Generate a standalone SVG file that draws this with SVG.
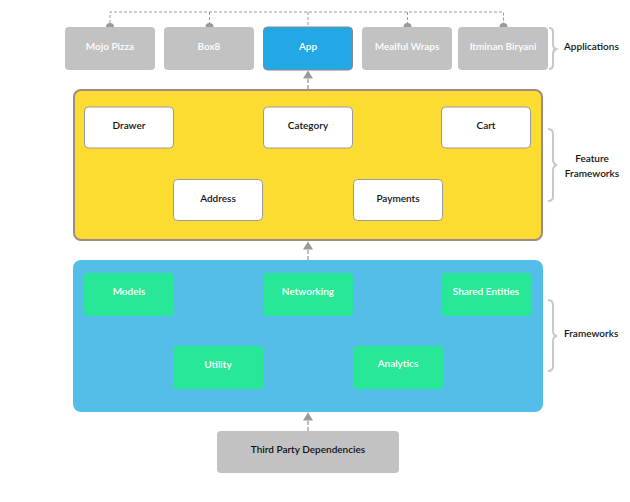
<svg xmlns="http://www.w3.org/2000/svg" width="630" height="502" viewBox="0 0 630 502">
<defs>
<style>
text{font-family:Lato,"Open Sans","Liberation Sans",sans-serif;font-size:10px;text-anchor:middle;font-weight:600}
.app{fill:#c2c2c2}
.appt{fill:#ffffff}
.white{fill:#ffffff;stroke:#9a9a9a;stroke-width:1}
.green{fill:#28e897}
.dash{fill:none;stroke:#9a9a9a;stroke-width:1;stroke-dasharray:3,2}
.vdash{fill:none;stroke:#bdbdbd;stroke-width:2;stroke-dasharray:4,2}
.brace{fill:none;stroke:#c8c8c8;stroke-width:2}
.lbl{fill:#111;text-anchor:start}
.dk{fill:#111}
</style>
<marker id="arr" viewBox="0 0 8 10" refX="8" refY="5" markerWidth="8" markerHeight="10" markerUnits="userSpaceOnUse" orient="auto">
<path d="M0,0 L8,5 L0,10 Z" fill="#9a9a9a"/>
</marker>
</defs>

<g id="connectors">
<path class="dash" d="M110,23 V12 H503.5 V23 M209.5,12 V23 M407.5,12 V23 M308,12 V27"/>
<circle cx="110" cy="27" r="4" fill="#9a9a9a"/>
<circle cx="209.5" cy="27" r="4" fill="#9a9a9a"/>
<circle cx="407.5" cy="27" r="4" fill="#9a9a9a"/>
<circle cx="503.5" cy="27" r="4" fill="#9a9a9a"/>
<path class="vdash" d="M308,89 V70.5" marker-end="url(#arr)"/>
<path class="vdash" d="M308,260 V241.5" marker-end="url(#arr)"/>
<path class="vdash" d="M308,431 V412.5" marker-end="url(#arr)"/>
</g>

<g id="mojo"><rect class="app" x="65" y="27" width="90" height="43" rx="4"/><text class="appt" x="110" y="50">Mojo Pizza</text></g>
<g id="box8"><rect class="app" x="164" y="27" width="90" height="43" rx="4"/><text class="appt" x="209" y="50">Box8</text></g>
<g id="app"><rect x="263.5" y="27" width="89" height="43" rx="4" fill="#22a8e4" stroke="#8a8a8a" stroke-width="1"/><text class="appt" x="308" y="50">App</text></g>
<g id="mealful"><rect class="app" x="362" y="27" width="90" height="43" rx="4"/><text class="appt" x="407" y="50">Mealful Wraps</text></g>
<g id="itminan"><rect class="app" x="458" y="27" width="90" height="43" rx="4"/><text class="appt" x="503" y="50">Itminan Biryani</text></g>

<g id="applications">
<path class="brace" d="M549,28 Q553,28 553,32 V44 Q553,48 556,49 Q553,50 553,54 V65 Q553,69 549,69"/>
<text class="lbl" x="564" y="50">Applications</text>
</g>

<g id="feature-frameworks">
<rect x="74" y="90" width="468" height="150" rx="7" fill="#fddc32" stroke="#a08a86" stroke-width="2"/>
<path class="brace" d="M548,129 Q553,129 553,134 V160 Q553,164 557,165 Q553,166 553,170 V196 Q553,201 548,201"/>
<text class="dk" x="592" y="162">Feature</text>
<text class="dk" x="592" y="177">Frameworks</text>
</g>
<g id="drawer"><rect class="white" x="84.5" y="107" width="89" height="41" rx="4"/><text class="dk" x="129" y="129">Drawer</text></g>
<g id="category"><rect class="white" x="263.5" y="107" width="89" height="41" rx="4"/><text class="dk" x="308" y="129">Category</text></g>
<g id="cart"><rect class="white" x="441.5" y="107" width="89" height="41" rx="4"/><text class="dk" x="486" y="129">Cart</text></g>
<g id="address"><rect class="white" x="173.5" y="179.5" width="89" height="41" rx="4"/><text class="dk" x="218" y="202">Address</text></g>
<g id="payments"><rect class="white" x="353.5" y="179.5" width="89" height="41" rx="4"/><text class="dk" x="398" y="202">Payments</text></g>

<g id="frameworks">
<rect x="73" y="260" width="470" height="152" rx="8" fill="#53bfe8"/>
<path class="brace" d="M548,300 Q553,300 553,305 V331 Q553,335 557,336 Q553,337 553,341 V366 Q553,371 548,371"/>
<text class="lbl" x="564" y="337">Frameworks</text>
</g>
<g id="models"><rect class="green" x="84" y="273" width="90" height="43" rx="4"/><text class="appt" x="129" y="295">Models</text></g>
<g id="networking"><rect class="green" x="263" y="273" width="90" height="43" rx="4"/><text class="appt" x="308" y="295">Networking</text></g>
<g id="shared"><rect class="green" x="441" y="273" width="90" height="43" rx="4"/><text class="appt" x="486" y="295">Shared Entities</text></g>
<g id="utility"><rect class="green" x="173" y="346" width="90" height="43" rx="4"/><text class="appt" x="218" y="368">Utility</text></g>
<g id="analytics"><rect class="green" x="353" y="346" width="90" height="43" rx="4"/><text class="appt" x="398" y="367">Analytics</text></g>

<g id="third-party"><rect class="app" x="217" y="431" width="182" height="42" rx="4"/><text class="dk" x="308" y="453">Third Party Dependencies</text></g>
</svg>
